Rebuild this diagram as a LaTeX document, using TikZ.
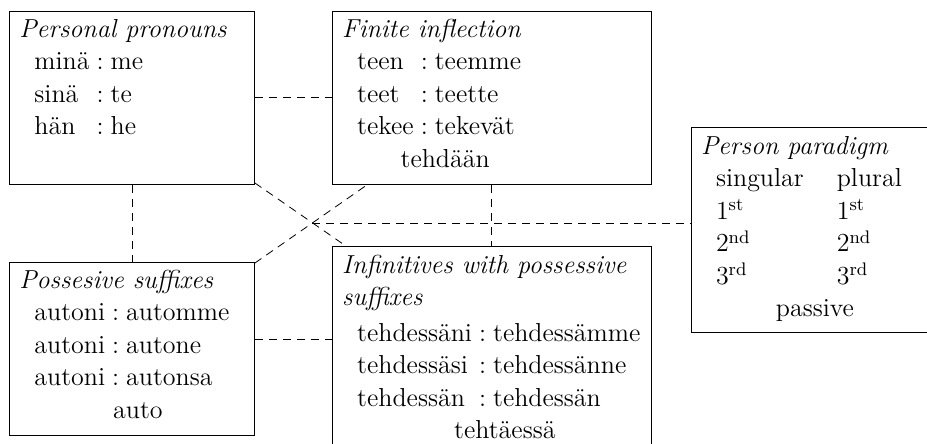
\documentclass[tikz,border=0pt]{standalone}
\usepackage{tikz}
\usetikzlibrary{positioning}

\begin{document}
\begin{tikzpicture}[
every node/.style={font=\fontsize{13}{16.25}\selectfont},
box/.style={draw,inner sep=0pt},
link/.style={dashed,dash pattern=on 4pt off 3pt}
]

\useasboundingbox (0,0) rectangle (463.5pt,-222pt);

\node[box,anchor=north west] (pers) at (4.5pt,-5.5pt) {\parbox[c][86.5pt][t]{122.5pt}{%
\hspace*{5pt}\rule{0pt}{13pt}\textit{Personal pronouns}\par
\begin{tabular}[t]{@{\hspace{12.5pt}}l@{\hspace{3.5pt}:\hspace{3.5pt}}l}
minä & me\\
sinä & te\\
hän & he
\end{tabular}}};

\node[box,right=38.5pt of pers] (fin) {\parbox[c][86.5pt][t]{159.5pt}{%
\hspace*{5pt}\rule{0pt}{13pt}\textit{Finite inflection}\par
\begin{tabular}[t]{@{\hspace{12.5pt}}l@{\hspace{3.5pt}:\hspace{3.5pt}}l}
teen & teemme\\
teet & teette\\
tekee & tekevät\\
\multicolumn{2}{@{\hspace{12.5pt}}c@{}}{tehdään}
\end{tabular}}};

\node[box,below=38.5pt of pers] (poss) {\parbox[c][86.5pt][t]{122.5pt}{%
\hspace*{5pt}\rule{0pt}{13pt}\textit{Possesive suffixes}\par
\begin{tabular}[t]{@{\hspace{12.5pt}}l@{\hspace{3.5pt}:\hspace{3.5pt}}l}
autoni & automme\\
autoni & autone\\
autoni & autonsa\\
\multicolumn{2}{@{\hspace{12.5pt}}c@{}}{auto}
\end{tabular}}};

\node[box,below=30.5pt of fin] (inf) {\parbox[c][101pt][t]{159.5pt}{%
\hspace*{5pt}\rule{0pt}{13.5pt}\textit{Infinitives with possessive}\par
\hspace*{5pt}\textit{suffixes}\par\vspace{1.5pt}
\begin{tabular}[t]{@{\hspace{12.5pt}}l@{\hspace{3.5pt}:\hspace{3.5pt}}l}
tehdessäni & tehdessämme\\
tehdessäsi & tehdessänne\\
tehdessän & tehdessän\\
\multicolumn{2}{@{\hspace{12.5pt}}c@{}}{tehtäessä}
\end{tabular}}};

\node[box,below right=58pt and 19.5pt of fin.north east] (para) {\parbox[c][102.5pt][t]{118.5pt}{%
\hspace*{5pt}\rule{0pt}{13.5pt}\textit{Person paradigm}\par
\begin{tabular}[t]{@{\hspace{12.5pt}}l@{\hspace{16.5pt}}l}
singular & plural\\
1\textsuperscript{st} & 1\textsuperscript{st}\\
2\textsuperscript{nd} & 2\textsuperscript{nd}\\
3\textsuperscript{rd} & 3\textsuperscript{rd}\\
\multicolumn{2}{@{\hspace{12.5pt}}c@{}}{passive}
\end{tabular}}};

% links between the boxes
\draw[link] (pers) -- (fin);
\draw[link] (pers) -- (poss);
\draw[link] (fin) -- (inf);
\draw[link] (pers) -- (inf);
\draw[link] (poss) -- (fin);
\draw[link] ([yshift=4.5pt]poss.east) -- ([yshift=4.5pt]poss.east -| inf.west);

\coordinate (x) at (intersection of pers--inf and poss--fin);
\draw[link] (x) -- (x -| para.west);

\end{tikzpicture}
\end{document}
